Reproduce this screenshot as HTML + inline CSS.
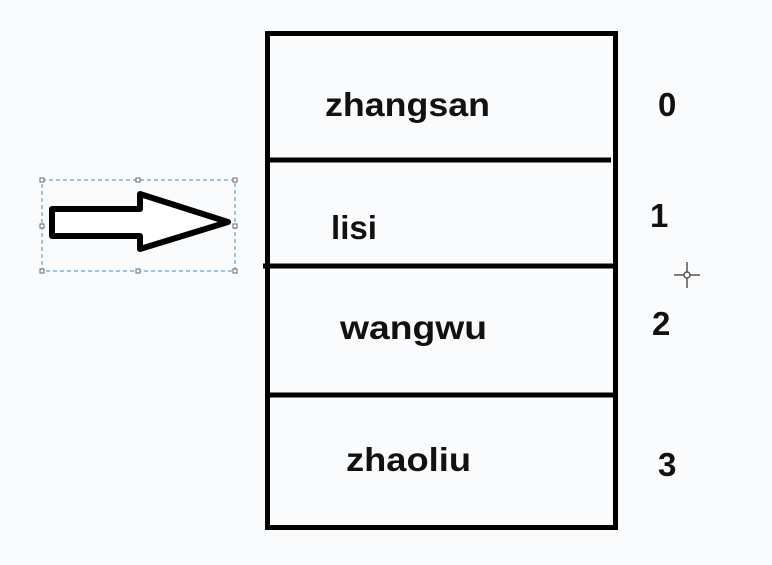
<!DOCTYPE html>
<html><head><style>
body{margin:0;width:772px;height:560px;background:#fafbfd;overflow:hidden}
svg text{font-family:"Liberation Sans",sans-serif;font-weight:bold;font-size:33px;fill:#111}
</style></head><body>
<svg width="772" height="560" xmlns="http://www.w3.org/2000/svg">
<rect x="267.5" y="33.5" width="348" height="494" fill="none" stroke="#000" stroke-width="5"/>
<line x1="267" y1="160" x2="611" y2="160" stroke="#000" stroke-width="5"/>
<line x1="263" y1="266" x2="616" y2="266" stroke="#000" stroke-width="5"/>
<line x1="267" y1="395" x2="616" y2="395" stroke="#000" stroke-width="5"/>
<text x="325" y="116" textLength="165" lengthAdjust="spacingAndGlyphs">zhangsan</text>
<text x="331" y="239" textLength="46" lengthAdjust="spacingAndGlyphs">lisi</text>
<text x="340" y="339" textLength="147" lengthAdjust="spacingAndGlyphs">wangwu</text>
<text x="346" y="471" textLength="125" lengthAdjust="spacingAndGlyphs">zhaoliu</text>
<text x="658" y="116">0</text>
<text x="650" y="227">1</text>
<text x="652" y="335">2</text>
<text x="658" y="476">3</text>
<rect x="42" y="180" width="193" height="91" fill="none" stroke="#3a8ac8" stroke-width="1" stroke-dasharray="4,3"/>
<g fill="#fff" stroke="#666" stroke-width="1">
<rect x="40" y="178" width="4" height="4"/><rect x="136" y="178" width="4" height="4"/><rect x="233" y="178" width="4" height="4"/>
<rect x="40" y="224" width="4" height="4"/><rect x="233" y="224" width="4" height="4"/>
<rect x="40" y="269" width="4" height="4"/><rect x="136" y="269" width="4" height="4"/><rect x="233" y="269" width="4" height="4"/>
</g>
<polygon points="52,209 140,209 140,194 228,222 140,249 140,236 52,236" fill="#fff" stroke="#000" stroke-width="6" stroke-linejoin="round"/>
<g stroke="#555" stroke-width="1.5" fill="none">
<line x1="674" y1="275" x2="700" y2="275"/><line x1="687" y1="262" x2="687" y2="288"/>
<circle cx="687" cy="275" r="3" fill="#fff"/>
</g>
</svg>
</body></html>
